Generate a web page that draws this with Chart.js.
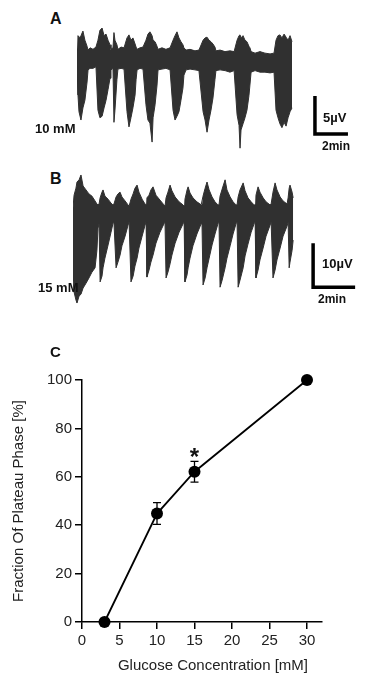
<!DOCTYPE html>
<html><head><meta charset="utf-8">
<script src="https://cdn.jsdelivr.net/npm/chart.js@4.4.1/dist/chart.umd.min.js"></script>
<style>
html,body{margin:0;padding:0;background:#fff;width:380px;height:680px;overflow:hidden;}
body{position:relative;font-family:"Liberation Sans",Arial,sans-serif;color:#111;}
canvas{position:absolute;}
.lbl{position:absolute;white-space:nowrap;line-height:1;font-weight:bold;}
</style></head><body>
<canvas id="cA" width="283" height="125" style="left:77px;top:25px"></canvas>
<canvas id="cB" width="292" height="137" style="left:73px;top:170px"></canvas>
<canvas id="cC" width="380" height="350" style="left:0px;top:330px"></canvas>

<div class="lbl" style="left:50px;top:11px;font-size:16px">A</div>
<div class="lbl" style="left:35px;top:122px;font-size:13px">10 mM</div>
<div class="lbl" style="left:323px;top:111px;font-size:13px">5µV</div>
<div class="lbl" style="left:322px;top:140px;font-size:12px">2min</div>

<div class="lbl" style="left:50px;top:171px;font-size:16px">B</div>
<div class="lbl" style="left:38px;top:281px;font-size:13px">15 mM</div>
<div class="lbl" style="left:322px;top:257px;font-size:13px">10µV</div>
<div class="lbl" style="left:318px;top:293px;font-size:12px">2min</div>

<div class="lbl" style="left:50px;top:344px;font-size:15px">C</div>
<div class="lbl" style="left:0px;width:426px;text-align:center;top:657px;font-size:15px;font-weight:normal;color:#222">Glucose Concentration [mM]</div>

<script>
// ---- Trace A (10 mM): time [min], upper / lower envelope [µV]
const timeA = [0,0.06,0.12,0.24,0.36,0.48,0.61,0.67,0.79,0.97,1.15,1.27,1.39,1.52,1.64,1.76,1.88,2.00,2.06,2.18,2.24,2.30,2.42,2.48,2.67,2.85,3.03,3.15,3.27,3.39,3.52,3.58,3.64,3.82,4.00,4.18,4.30,4.42,4.55,4.61,4.73,4.85,4.91,5.15,5.39,5.64,5.82,5.94,6.06,6.18,6.30,6.42,6.48,6.61,6.85,7.15,7.39,7.64,7.76,7.88,8.00,8.12,8.24,8.36,8.42,8.67,8.97,9.27,9.52,9.70,9.82,9.88,9.94,10.06,10.18,10.30,10.42,10.48,10.55,10.79,11.09,11.39,11.70,11.94,12.06,12.18,12.30,12.42,12.55,12.67,12.79,12.91,13.03];
const upperA = [1.3,3.2,2.9,3.2,3.8,2.6,1.8,1.3,1.6,1.4,1.7,2.6,3.9,4.2,3.2,3.4,2.6,2.0,1.4,1.6,3.6,2.6,2.0,1.4,1.7,1.6,2.9,3.3,2.6,2.9,2.1,1.7,1.4,1.6,1.7,2.6,3.4,3.7,3.2,2.6,2.4,1.8,1.4,1.6,1.4,1.6,2.6,3.2,3.7,2.9,2.4,2.0,1.6,1.3,1.4,1.2,1.3,2.6,2.9,3.0,2.6,2.4,2.1,1.7,1.2,1.3,1.1,1.2,1.1,2.6,3.2,3.3,2.9,3.2,2.6,2.4,1.8,1.6,1.1,0.9,1.1,0.9,0.8,0.9,2.6,3.2,3.3,2.9,3.4,3.0,2.6,3.2,2.4];
const lowerA = [-0.8,-4.6,-6.8,-7.9,-6.3,-5.3,-2.9,-1.3,-1.1,-1.1,-0.9,-6.6,-7.6,-7.4,-6.3,-5.3,-3.9,-2.4,-1.3,-1.1,-8.2,-6.6,-2.6,-1.2,-1.1,-1.2,-6.8,-8.8,-7.6,-6.3,-4.6,-2.6,-1.3,-1.1,-1.2,-5.9,-7.9,-8.3,-10.8,-7.6,-5.9,-3.3,-1.3,-1.2,-1.1,-1.3,-6.6,-7.9,-7.4,-6.8,-5.3,-3.7,-2.0,-1.3,-1.2,-1.3,-1.4,-6.8,-7.9,-9.5,-7.9,-6.6,-5.0,-2.6,-1.4,-1.3,-1.4,-1.6,-1.4,-7.2,-8.6,-11.6,-9.2,-8.4,-7.6,-6.6,-4.7,-3.3,-1.6,-1.4,-1.6,-1.6,-1.7,-1.6,-6.6,-7.6,-8.4,-8.9,-8.2,-8.7,-7.6,-6.8,-6.3];
// scale bar A: [t0 min, v0 µV, 2 min, 5 µV]
const scaleBarA = [14.42, -9.74, 2, 5];

// ---- Trace B (15 mM)
const timeB = [0,0.05,0.14,0.19,0.29,0.38,0.48,0.62,0.76,0.90,1.05,1.14,1.19,1.24,1.29,1.38,1.43,1.52,1.67,1.81,1.90,1.95,2.05,2.14,2.24,2.33,2.48,2.62,2.67,2.76,2.86,2.95,3.05,3.14,3.29,3.43,3.48,3.52,3.62,3.71,3.81,3.95,4.14,4.33,4.38,4.43,4.52,4.62,4.71,4.86,5.05,5.24,5.29,5.33,5.43,5.48,5.57,5.71,5.90,6.10,6.14,6.19,6.29,6.38,6.48,6.62,6.76,6.90,6.95,7.00,7.10,7.24,7.33,7.48,7.62,7.76,7.81,7.86,7.95,8.10,8.19,8.33,8.48,8.62,8.67,8.71,8.81,8.90,9.05,9.19,9.38,9.43,9.52,9.62,9.71,9.86,10.00,10.19,10.24,10.29,10.33,10.43,10.48];
const upperB = [1.6,4.5,6.1,7.5,8.0,9.1,6.6,5.7,4.8,4.3,3.2,2.5,2.3,2.5,3.9,5.2,5.7,4.3,3.6,2.7,2.3,2.5,4.1,4.8,5.2,4.1,3.2,2.3,2.0,3.6,4.8,6.1,6.8,5.2,3.6,2.5,2.3,3.9,4.5,5.7,6.4,4.5,3.4,2.3,2.0,3.9,5.2,6.8,5.5,4.1,3.0,2.3,2.0,3.6,5.7,6.4,5.0,3.9,3.0,2.3,2.3,4.3,6.1,7.5,5.7,4.1,3.0,2.3,2.3,4.3,5.9,8.0,5.7,4.1,3.0,2.3,2.3,4.1,5.7,7.3,5.5,3.9,3.0,2.3,2.3,4.5,6.4,5.2,3.9,3.0,2.3,2.5,5.2,7.3,5.7,4.1,3.2,2.5,3.9,6.1,6.8,5.2,3.9];
const lowerB = [-14.8,-17.5,-19.3,-20.0,-18.4,-18.0,-16.6,-15.5,-14.3,-13.0,-12.0,-8.0,-3.0,-2.0,-15.2,-13.9,-12.0,-9.8,-6.8,-3.9,-2.0,-1.6,-12.0,-10.7,-9.1,-7.0,-4.8,-2.3,-1.6,-15.2,-13.9,-11.6,-9.8,-7.5,-4.8,-2.3,-1.6,-14.1,-12.5,-10.7,-9.1,-6.4,-3.9,-2.0,-1.6,-14.3,-13.0,-11.1,-9.1,-6.4,-3.9,-2.0,-1.6,-15.2,-13.6,-12.0,-9.8,-7.0,-4.3,-2.0,-1.6,-15.9,-14.3,-12.0,-9.8,-6.8,-4.3,-2.0,-1.6,-16.4,-14.8,-12.0,-9.8,-7.0,-4.3,-2.0,-1.6,-16.4,-14.8,-12.0,-9.3,-6.6,-3.9,-2.0,-1.6,-14.3,-12.5,-10.2,-7.5,-4.8,-2.3,-1.6,-14.3,-12.5,-10.2,-7.5,-4.8,-2.5,-1.6,-12.0,-10.7,-8.0,-5.7];
const scaleBarB = [11.43, -16.4, 2, 10];

// ---- Panel C
const concMM = [3, 10, 15, 30];
const plateauPct = [0, 44.8, 62.1, 100];
const plateauSem = [0, 4.5, 4.3, 0];
const xTickVals = [0, 5, 10, 15, 20, 25, 30];
const yTickVals = [0, 20, 40, 60, 80, 100];
const starAt = [15, 70];

Chart.defaults.font.family = '"Liberation Sans", Arial, sans-serif';

const scaleBarPlugin = {
  id: 'scaleBar',
  afterDatasetsDraw(chart, args, opts) {
    const {x, y} = chart.scales;
    const [t0, v0, dt, dv] = opts.bar;
    const ctx = chart.ctx;
    ctx.save();
    ctx.strokeStyle = '#000';
    ctx.lineWidth = 3.5;
    ctx.lineJoin = 'miter';
    ctx.beginPath();
    ctx.moveTo(x.getPixelForValue(t0), y.getPixelForValue(v0 + dv));
    ctx.lineTo(x.getPixelForValue(t0), y.getPixelForValue(v0));
    ctx.lineTo(x.getPixelForValue(t0 + dt), y.getPixelForValue(v0));
    ctx.stroke();
    ctx.restore();
  }
};

function traceChart(id, t, up, lo, xMax, yMin, yMax, bar) {
  const pts = arr => t.map((tt, i) => ({x: tt, y: arr[i]}));
  return new Chart(document.getElementById(id), {
    type: 'line',
    data: {datasets: [
      {data: pts(up), borderColor: '#303030', borderWidth: 1, pointRadius: 0, fill: false, tension: 0},
      {data: pts(lo), borderColor: '#303030', borderWidth: 1, pointRadius: 0, fill: '-1', backgroundColor: '#303030', tension: 0}
    ]},
    options: {
      responsive: false, animation: false, events: [],
      layout: {padding: 0},
      plugins: {legend: {display: false}, tooltip: {enabled: false}, scaleBar: {bar}},
      scales: {
        x: {type: 'linear', display: false, min: 0, max: xMax},
        y: {display: false, min: yMin, max: yMax}
      }
    },
    plugins: [scaleBarPlugin]
  });
}

traceChart('cA', timeA, upperA, lowerA, 17.15, -11.84, 4.6, scaleBarA);
traceChart('cB', timeB, upperB, lowerB, 13.9, -20.9, 10.23, scaleBarB);

const errPlugin = {
  id: 'errBars',
  beforeDatasetsDraw(chart) {
    const {x, y} = chart.scales;
    const ctx = chart.ctx;
    ctx.save();
    ctx.strokeStyle = '#000';
    ctx.lineWidth = 1.3;
    concMM.forEach((c, i) => {
      const e = plateauSem[i];
      if (!e) return;
      const px = x.getPixelForValue(c);
      const y1 = y.getPixelForValue(plateauPct[i] + e);
      const y2 = y.getPixelForValue(plateauPct[i] - e);
      ctx.beginPath();
      ctx.moveTo(px, y1); ctx.lineTo(px, y2);
      ctx.moveTo(px - 4, y1); ctx.lineTo(px + 4, y1);
      ctx.moveTo(px - 4, y2); ctx.lineTo(px + 4, y2);
      ctx.stroke();
    });
    ctx.restore();
  },
  afterDatasetsDraw(chart) {
    const {x, y} = chart.scales;
    const ctx = chart.ctx;
    ctx.save();
    ctx.fillStyle = '#111';
    const F = 24;
    ctx.font = 'bold ' + F + 'px "Liberation Sans", Arial, sans-serif';
    ctx.textAlign = 'center';
    ctx.textBaseline = 'alphabetic';
    ctx.fillText('*', x.getPixelForValue(starAt[0]), y.getPixelForValue(starAt[1]) + 0.5 * F);
    ctx.restore();
  }
};

const axisCommon = {
  ticks: {font: {size: 15}, color: '#222', padding: 3, autoSkip: false, maxRotation: 0},
  grid: {drawOnChartArea: false, drawTicks: true, tickLength: 7, color: '#000', lineWidth: 1.5},
  border: {color: '#000', width: 1.5}
};

new Chart(document.getElementById('cC'), {
  type: 'line',
  data: {datasets: [{
    data: concMM.map((c, i) => ({x: c, y: plateauPct[i]})),
    borderColor: '#000', borderWidth: 1.8, tension: 0,
    pointRadius: 6, pointBackgroundColor: '#000', pointBorderColor: '#000', pointBorderWidth: 0,
    clip: false, fill: false
  }]},
  options: {
    responsive: false, animation: false, events: [],
    layout: {padding: {left: 0, top: 50, right: 58, bottom: 0}},
    plugins: {legend: {display: false}, tooltip: {enabled: false}},
    scales: {
      x: Object.assign({}, axisCommon, {
        type: 'linear', min: 0, max: 32,
        afterBuildTicks: s => { s.ticks = xTickVals.map(v => ({value: v})); },
        afterFit: s => { s.height = 58; }
      }),
      y: Object.assign({}, axisCommon, {
        min: 0, max: 100,
        afterBuildTicks: s => { s.ticks = yTickVals.map(v => ({value: v})); },
        afterFit: s => { s.width = 82; },
        title: {display: true, text: 'Fraction Of Plateau Phase [%]', color: '#222', font: {size: 15}, padding: {top: 10, bottom: 0}}
      })
    }
  },
  plugins: [errPlugin]
});
</script>
</body></html>
